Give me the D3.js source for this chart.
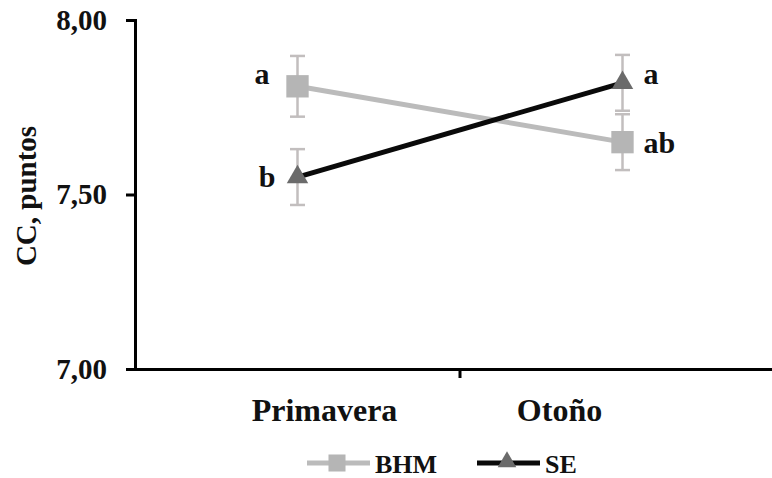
<!DOCTYPE html>
<html>
<head>
<meta charset="utf-8">
<script src="https://cdn.jsdelivr.net/npm/d3@7"></script>
<style>
  body { margin: 0; background: #fff; }
</style>
</head>
<body>
<div id="chart"></div>
<script>
var seasons = ["Primavera", "Otoño"];
var bhmValues = [7.81, 7.65];
var bhmErr = [0.087, 0.08];
var bhmLetters = ["a", "ab"];
var seValues = [7.55, 7.82];
var seErr = [0.08, 0.08];
var seLetters = ["b", "a"];
var yTicks = [7.0, 7.5, 8.0];

var serif = "Liberation Serif";

var svg = d3.select("#chart")
  .append("svg")
  .attr("width", 772)
  .attr("height", 478);

var x = d3.scaleBand()
  .domain(seasons)
  .range([135, 785]);

var y = d3.scaleLinear()
  .domain([7, 8])
  .range([369, 20]);

var fmt = function(d) { return d3.format(".2f")(d).replace(".", ","); };

function boldText(sel, size) {
  return sel.style("font-family", serif)
    .style("font-weight", "bold")
    .style("font-size", size + "px")
    .attr("fill", "#111");
}

// axes
var yAxis = svg.append("g")
  .attr("transform", "translate(135,0)")
  .call(d3.axisLeft(y).tickValues(yTicks).tickFormat(fmt).tickSize(9).tickPadding(19));
yAxis.select(".domain").attr("stroke", "#000").attr("stroke-width", 3);
yAxis.selectAll(".tick line").attr("stroke", "#000").attr("stroke-width", 3);
boldText(yAxis.selectAll(".tick text"), 29);

var xAxis = svg.append("g")
  .attr("transform", "translate(0,369)")
  .call(d3.axisBottom(x).tickSize(0));
xAxis.select(".domain").attr("stroke", "#000").attr("stroke-width", 3);
// category labels sit off the point centres in the original
var labelShift = [27, -63];
boldText(xAxis.selectAll(".tick text"), 32)
  .attr("x", function(d, i) { return labelShift[i]; })
  .attr("y", 52)
  .attr("dy", null);

// tick between categories
svg.append("line")
  .attr("x1", x("Otoño")).attr("x2", x("Otoño"))
  .attr("y1", 369).attr("y2", 378)
  .attr("stroke", "#000").attr("stroke-width", 3);

boldText(svg.append("text"), 29)
  .attr("transform", "translate(36,196) rotate(-90)")
  .attr("text-anchor", "middle")
  .text("CC, puntos");

var cx = function(i) { return x(seasons[i]) + x.bandwidth() / 2; };

function drawErr(vals, errs) {
  vals.forEach(function(v, i) {
    var g = svg.append("g").attr("stroke", "#c2bebe").attr("stroke-width", 2.5);
    g.append("line").attr("x1", cx(i)).attr("x2", cx(i)).attr("y1", y(v - errs[i])).attr("y2", y(v + errs[i]));
    g.append("line").attr("x1", cx(i) - 7.5).attr("x2", cx(i) + 7.5).attr("y1", y(v - errs[i])).attr("y2", y(v - errs[i]));
    g.append("line").attr("x1", cx(i) - 7.5).attr("x2", cx(i) + 7.5).attr("y1", y(v + errs[i])).attr("y2", y(v + errs[i]));
  });
}
drawErr(bhmValues, bhmErr);
drawErr(seValues, seErr);

var line = d3.line()
  .x(function(d, i) { return cx(i); })
  .y(function(d) { return y(d); });

svg.append("path")
  .datum(bhmValues)
  .attr("d", line)
  .attr("fill", "none")
  .attr("stroke", "#bbbbbb")
  .attr("stroke-width", 5);

svg.append("path")
  .datum(seValues)
  .attr("d", line)
  .attr("fill", "none")
  .attr("stroke", "#0a0a0a")
  .attr("stroke-width", 5);

var square = d3.symbol().type(d3.symbolSquare).size(500);
var tri = d3.symbol().type(d3.symbolTriangle).size(200);

svg.selectAll(".bhm-pt")
  .data(bhmValues)
  .enter().append("path")
  .attr("class", "bhm-pt")
  .attr("transform", function(d, i) { return "translate(" + cx(i) + "," + y(d) + ")"; })
  .attr("d", square)
  .attr("fill", "#b5b5b5");

svg.selectAll(".se-pt")
  .data(seValues)
  .enter().append("path")
  .attr("class", "se-pt")
  .attr("transform", function(d, i) { return "translate(" + cx(i) + "," + y(d) + ")"; })
  .attr("d", tri)
  .attr("fill", "#6b6b6b");

// significance letters
boldText(svg.append("text"), 30).attr("x", cx(0) - 28).attr("y", y(bhmValues[0]) - 2)
  .attr("text-anchor", "end").text(bhmLetters[0]);
boldText(svg.append("text"), 30).attr("x", cx(0) - 22).attr("y", y(seValues[0]) + 10)
  .attr("text-anchor", "end").text(seLetters[0]);
boldText(svg.append("text"), 30).attr("x", cx(1) + 21).attr("y", y(seValues[1]) + 1)
  .attr("text-anchor", "start").text(seLetters[1]);
boldText(svg.append("text"), 30).attr("x", cx(1) + 21).attr("y", y(bhmValues[1]) + 11)
  .attr("text-anchor", "start").text(bhmLetters[1]);

// legend
var legend = svg.append("g").attr("transform", "translate(0,463)");
legend.append("line").attr("x1", 307).attr("x2", 370).attr("y1", 0).attr("y2", 0)
  .attr("stroke", "#bbbbbb").attr("stroke-width", 5);
legend.append("path").attr("transform", "translate(337,0)")
  .attr("d", d3.symbol().type(d3.symbolSquare).size(290)).attr("fill", "#b5b5b5");
boldText(legend.append("text"), 26).attr("x", 375).attr("y", 10).text("BHM");
legend.append("line").attr("x1", 477).attr("x2", 540).attr("y1", 0).attr("y2", 0)
  .attr("stroke", "#0a0a0a").attr("stroke-width", 5);
legend.append("path").attr("transform", "translate(507,-1)")
  .attr("d", d3.symbol().type(d3.symbolTriangle).size(150)).attr("fill", "#6b6b6b");
boldText(legend.append("text"), 26).attr("x", 545).attr("y", 10).text("SE");
</script>
</body>
</html>
